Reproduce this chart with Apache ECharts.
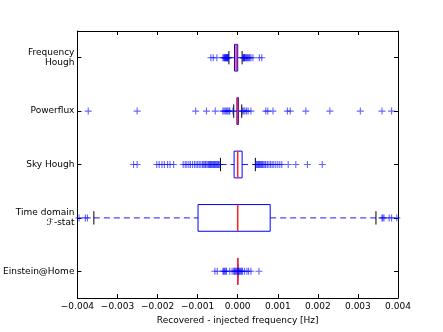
<!DOCTYPE html>
<html>
<head>
<meta charset="utf-8">
<script src="https://cdn.jsdelivr.net/npm/echarts@6/dist/echarts.min.js"></script>
<style>
  html, body { margin: 0; padding: 0; background: #fff; }
  #chart { width: 443px; height: 332px; }
</style>
</head>
<body>
<div id="chart"></div>
<script>
// 类别（从上到下）
const categories = ['Frequency\nHough', 'Powerflux', 'Sky Hough', 'Time domain\nℱ-stat', 'Einstein@Home']

// 箱线统计：[下须, Q1, 中位数, Q3, 上须]
const freqHoughBox = [-0.00022, -0.00008, -0.00004, 0.0, 0.00011]
const powerfluxBox = [-0.0001, -0.00002, 0.0, 0.00002, 0.0001]
const skyHoughBox = [-0.00043, -0.00009, 0.0, 0.00011, 0.00044]
const timeDomainBox = [-0.00359, -0.00099, 0.0, 0.00081, 0.00345]
const einsteinBox = [0.0, 0.0, 0.0, 0.0, 0.0]

// 离群点
const freqHoughFliers = [-0.00067, -0.00061, -0.00052, -0.00037, -0.00035, -0.00033, -0.00032, -0.00031,
  -0.0003, -0.00029, -0.00028, -0.00027, -0.00026, -0.00025, -0.00024, -0.00023,
  0.00013, 0.00014, 0.00015, 0.00016, 0.00017, 0.00018, 0.0002, 0.00022, 0.00024, 0.00026,
  0.00028, 0.0003, 0.00033, 0.00038, 0.00054, 0.0006]
const powerfluxFliers = [-0.00373, -0.00251, -0.00105, -0.00078, -0.00056, -0.00037, -0.00034, -0.00031,
  -0.00028, -0.00025, -0.00022, -0.0002, -0.00012, 0.00012, 0.00015, 0.00018, 0.00022, 0.00026,
  0.00033, 0.0007, 0.00075, 0.00088, 0.00124, 0.00131, 0.0017, 0.0023, 0.00306, 0.0036, 0.00384]
const skyHoughFliers = [-0.0026, -0.00251, -0.00202, -0.00196, -0.00189, -0.00183, -0.00175, -0.00169, -0.0016,
  -0.00136, -0.00131, -0.00127, -0.00122, -0.00118, -0.00113, -0.00108, -0.00104, -0.001, -0.00096, -0.00092,
  -0.00088, -0.00085, -0.00082, -0.0008, -0.00077, -0.00074, -0.00072, -0.0007, -0.00068, -0.00066,
  -0.00064, -0.00062, -0.0006, -0.00058, -0.00056, -0.00054, -0.00052, -0.0005, -0.00048, -0.00046,
  0.00046, 0.00048, 0.0005, 0.00052, 0.00054, 0.00056, 0.00058, 0.0006, 0.00062, 0.00065, 0.00068, 0.0007,
  0.00074, 0.00078, 0.00082, 0.00086, 0.0009, 0.00095, 0.001, 0.00105, 0.0011, 0.00126, 0.00145, 0.00174, 0.00211]
const timeDomainFliers = [-0.00396, -0.0038, -0.00375, 0.0036, 0.00362, 0.00365, 0.00378, 0.00384, 0.00397]
const einsteinFliers = [-0.00057, -0.00051, -0.00037, -0.00035, -0.00033, -0.0003, -0.00028, -0.0002, -0.00014,
  -0.0001, -0.00008, -0.00006, -0.00004, -0.00002, 0.0, 0.00002, 0.00004, 0.00006, 0.00008, 0.0001, 0.00012,
  0.00017, 0.00023, 0.00027, 0.00033, 0.00053]

// x轴刻度
const xMin = -0.004
const xMax = 0.004
const xStep = 0.001

const boxes = [freqHoughBox, powerfluxBox, skyHoughBox, timeDomainBox, einsteinBox]
const fliers = [freqHoughFliers, powerfluxFliers, skyHoughFliers, timeDomainFliers, einsteinFliers]

const boxData = boxes.map((b, i) => [i].concat(b))
const flierData = []
fliers.forEach((list, i) => {
  list.forEach(v => flierData.push([v, i]))
})

const font = 'DejaVu Sans'
const blue = '#0000ff'
const plus = 'path://M0,4.2h10v1.6h-10z M4.2,0h1.6v10h-1.6z'

function fmt(v) {
  const s = Math.abs(v).toFixed(3)
  return v < 0 ? '\u2212' + s : s
}

/**
 * @description: 绘制单个横向箱线（虚线须、黑色端帽、蓝框、红色中位线）
 */
function renderBox(params, api) {
  const cat = api.value(0)
  const lo = api.coord([api.value(1), cat])
  const q1 = api.coord([api.value(2), cat])
  const med = api.coord([api.value(3), cat])
  const q3 = api.coord([api.value(4), cat])
  const hi = api.coord([api.value(5), cat])
  const h = api.size([0, 1])[1] * 0.5
  const y = lo[1]
  const whisker = { stroke: 'rgba(0,0,255,0.9)', lineWidth: 1, lineDash: [6, 4] }
  const cap = { stroke: '#000', lineWidth: 1 }
  return {
    type: 'group',
    children: [
      { type: 'line', shape: { x1: lo[0], y1: y, x2: q1[0], y2: y }, style: whisker },
      { type: 'line', shape: { x1: q3[0], y1: y, x2: hi[0], y2: y }, style: whisker },
      { type: 'line', shape: { x1: lo[0], y1: y - h / 4, x2: lo[0], y2: y + h / 4 }, style: cap },
      { type: 'line', shape: { x1: hi[0], y1: y - h / 4, x2: hi[0], y2: y + h / 4 }, style: cap },
      {
        type: 'rect',
        shape: { x: q1[0], y: y - h / 2, width: q3[0] - q1[0], height: h },
        style: { fill: 'none', stroke: blue, lineWidth: 1 }
      },
      {
        type: 'line',
        shape: { x1: med[0], y1: y - h / 2, x2: med[0], y2: y + h / 2 },
        style: { stroke: '#ff2020', lineWidth: 1.5 }
      }
    ]
  }
}

const chart = echarts.init(document.getElementById('chart'), null, { renderer: 'canvas' })
chart.setOption({
  animation: false,
  backgroundColor: '#fff',
  textStyle: { fontFamily: font },
  grid: { left: 75, right: 45, top: 31, bottom: 34 },
  xAxis: [
    {
      type: 'value',
      min: xMin,
      max: xMax,
      interval: xStep,
      position: 'bottom',
      name: 'Recovered - injected frequency [Hz]',
      nameLocation: 'middle',
      nameGap: 15,
      nameTextStyle: { fontSize: 9, color: '#000', fontFamily: font },
      splitLine: { show: false },
      axisLine: { show: true, onZero: false, lineStyle: { color: '#000', width: 1 } },
      axisTick: { show: true, inside: true, length: 4, lineStyle: { color: '#000' } },
      axisLabel: { fontSize: 9, color: '#000', margin: 4, fontFamily: font, formatter: fmt }
    },
    {
      type: 'value',
      min: xMin,
      max: xMax,
      interval: xStep,
      position: 'top',
      splitLine: { show: false },
      axisLine: { show: true, onZero: false, lineStyle: { color: '#000', width: 1 } },
      axisTick: { show: true, inside: true, length: 4, lineStyle: { color: '#000' } },
      axisLabel: { show: false }
    }
  ],
  yAxis: [
    {
      type: 'category',
      data: categories,
      inverse: true,
      position: 'left',
      axisLine: { show: true, onZero: false, lineStyle: { color: '#000', width: 1 } },
      axisTick: { show: true, inside: true, length: 4, alignWithLabel: true, lineStyle: { color: '#000' } },
      axisLabel: { fontSize: 9, color: '#000', margin: 3, lineHeight: 10, align: 'right', fontFamily: font }
    },
    {
      type: 'category',
      data: categories,
      inverse: true,
      position: 'right',
      axisLine: { show: true, onZero: false, lineStyle: { color: '#000', width: 1 } },
      axisTick: { show: true, inside: true, length: 4, alignWithLabel: true, lineStyle: { color: '#000' } },
      axisLabel: { show: false }
    }
  ],
  series: [
    {
      name: 'box',
      type: 'custom',
      renderItem: renderBox,
      clip: true,
      encode: { x: [1, 2, 3, 4, 5], y: 0 },
      data: boxData,
      z: 2
    },
    {
      name: 'fliers',
      type: 'scatter',
      symbol: plus,
      symbolSize: 7,
      clip: true,
      itemStyle: { color: blue, opacity: 0.6 },
      data: flierData,
      z: 3
    }
  ]
})
</script>
</body>
</html>
